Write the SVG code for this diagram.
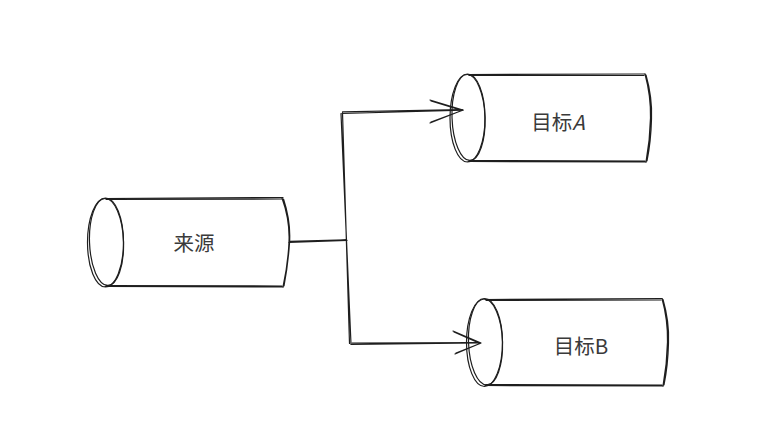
<svg xmlns="http://www.w3.org/2000/svg" width="770" height="448" viewBox="0 0 770 448">
<style>
.s{fill:none;stroke:#1e1e1e;stroke-width:1.2;stroke-linecap:round;stroke-linejoin:round}
.t{font-family:"Noto Sans CJK SC","Liberation Sans",sans-serif;font-size:20.5px;fill:#3a3a3a;text-anchor:middle;dominant-baseline:central}
</style>
<rect width="770" height="448" fill="#fff"/>
<g id="conn">
<path class="s" d="M289 242.5 L347 240.3 M289.5 241.3 L346 239.8"/>
<path class="s" d="M341 113.5 L351 344 M342.5 112.5 L349.5 343.5"/>
<path class="s" d="M342 113.5 L463 110.2 M342.5 111.8 L462 109.5"/>
<path class="s" d="M430 100 L463 110 L430 123 M431 101 L462 110.5 L431 122"/>
<path class="s" d="M351 344.5 L480 343 M352 343.2 L479 342.5"/>
<path class="s" d="M453 331 L481 343 L455 354 M454 332 L480 343.5 L456 353"/>
</g>
<g id="src">
<path d="M105 198 L282 198 Q290 242 283 287 L105 287 Z" fill="#fff" stroke="none"/>
<path class="s" d="M105 198.5 L283 197.5 M106 199.5 L282 199 M105 286.5 L283 287 M106 285.5 L282 286"/>
<path class="s" d="M282 198 Q290 220 289 242 Q288 264 283 287 M283.5 199 Q291 222 289.5 243 Q288 265 284 286"/>
<ellipse class="s" cx="105.5" cy="242.5" rx="18" ry="44.5"/>
<ellipse class="s" cx="106.5" cy="242" rx="17" ry="43.5" transform="rotate(-2 106 242)"/>
<text class="t" x="194" y="242">来源</text>
</g>
<g id="tgtA">
<path d="M468 74 L645 74 Q652 118 646 162 L468 162 Z" fill="#fff" stroke="none"/>
<path class="s" d="M468 74.5 L645 74 M469 75.5 L644 75.5 M468 161.5 L646 162 M469 160.5 L645 161"/>
<path class="s" d="M645 74 Q651 96 650.5 118 Q650 140 646 162 M646 75 Q652.5 98 651.5 119 Q651 141 647 161"/>
<ellipse class="s" cx="467.5" cy="118" rx="17.5" ry="44"/>
<ellipse class="s" cx="468.5" cy="117.5" rx="16.5" ry="43" transform="rotate(-2 468 117)"/>
<text class="t" x="558" y="121">目标<tspan font-style="italic">A</tspan></text>
</g>
<g id="tgtB">
<path d="M485 299 L662 299 Q669 343 663 386 L485 386 Z" fill="#fff" stroke="none"/>
<path class="s" d="M485 299.5 L662 298.5 M486 300.5 L661 300 M485 385.5 L663 386 M486 384.5 L662 385"/>
<path class="s" d="M662 298.5 Q668 320 667.5 342 Q667 364 663 386 M663 299.5 Q669.5 322 668.5 343 Q668 365 664 385"/>
<ellipse class="s" cx="484.5" cy="342.5" rx="18" ry="44"/>
<ellipse class="s" cx="485.5" cy="342" rx="17" ry="43" transform="rotate(-2 485 342)"/>
<text class="t" x="581" y="345">目标B</text>
</g>
</svg>
